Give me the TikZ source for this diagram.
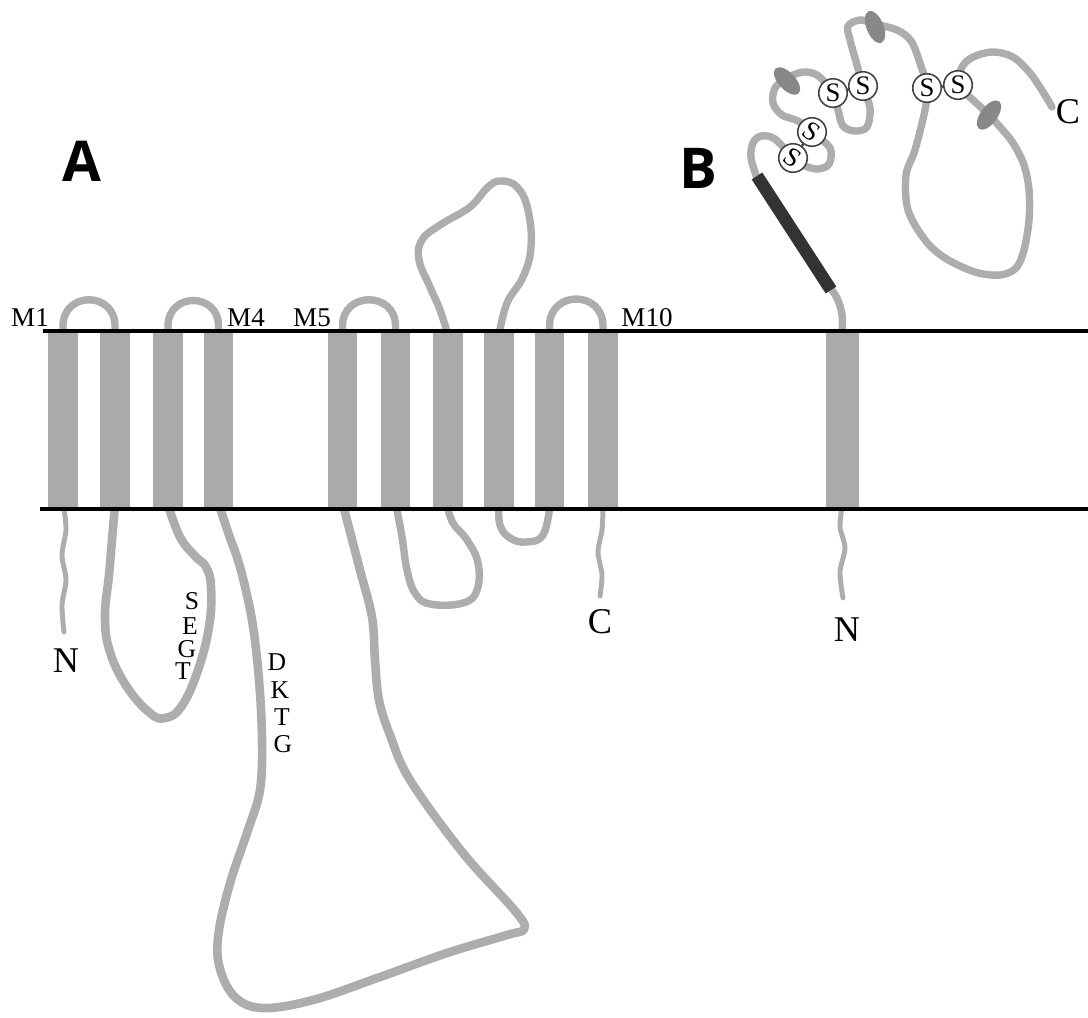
\documentclass[tikz,border=0pt]{standalone}
\usepackage{fontspec}
\setmainfont{Liberation Serif}
\newfontfamily\panelfont{Open Sans}
\definecolor{helixgray}{HTML}{AAAAAA}
\definecolor{chaingray}{HTML}{ADADAD}
\definecolor{ovalgray}{HTML}{888888}
\definecolor{stalk}{HTML}{333333}
\definecolor{ringgray}{HTML}{444444}

\begin{document}
\begin{tikzpicture}[x=0.01cm, y=-0.01cm,
  helix/.style={fill=helixgray},
  chain/.style={draw=chaingray, line width=2.1pt, line cap=round, line join=round},
  thickchain/.style={chain, line width=2.45pt},
  tail/.style={draw=chaingray, line width=1.4pt, line cap=round},
  membrane/.style={draw=black, line width=1.3pt},
  tmlabel/.style={font=\fontsize{7.7}{9}\selectfont, inner sep=0pt},
  endlabel/.style={font=\fontsize{10.3}{12}\selectfont, inner sep=0pt},
  motif/.style={font=\fontsize{7.3}{8}\selectfont, inner sep=0pt},
  panel/.style={font=\panelfont\bfseries\fontsize{16}{18}\selectfont, inner sep=0pt},
  sulfur/.style={circle, draw=ringgray, fill=white, line width=0.45pt,
    minimum size=0.285cm, inner sep=0pt, font=\fontsize{7.6}{8}\selectfont},
  glyco/.style={fill=ovalgray},
  bond/.style={draw=ringgray, line width=0.7pt},
]
\fill[white] (0,0) rectangle (1088,1017);
\useasboundingbox (0,0) rectangle (1088,1017);

% ---------- panel A: extracellular loops ----------
\draw[chain] (63,335) -- (63,326) .. controls (63,291) and (115,291) .. (115,326) -- (115,335);
\draw[chain] (168,335) -- (168,326) .. controls (168,292) and (218.5,292) .. (218.5,326) -- (218.5,335);
\draw[chain] (342.5,335) -- (342.5,326) .. controls (342.5,291) and (395.5,291) .. (395.5,326) -- (395.5,335);
\draw[chain] (549.5,335) -- (549.5,326) .. controls (549.5,290) and (603,290) .. (603,326) -- (603,335);
\draw[chain] plot[smooth, tension=0.7] coordinates {(448,335) (440,310) (430,287) (419,260)
  (422,240) (440,225) (470,207) (487,188) (500,181) (517,187) (528,210) (531,247)
  (523,277) (507,303) (499,335)};

% ---------- panel A: cytoplasmic loops ----------
\draw[thickchain] plot[smooth, tension=0.7] coordinates {(115,505) (112,540) (109,575)
  (105,617) (110,652) (127,687) (150,713) (165,718) (181,707) (197,673) (209,627)
  (211,587) (206,567) (195,556) (180,537) (168,505)};
\draw[thickchain] plot[smooth, tension=0.6] coordinates {(219,505) (229,535) (240,567)
  (252,620) (259,680) (262,740) (260,790) (248,830) (231,880) (219,930) (219,965)
  (234,996) (262,1008) (313,1000) (380,977) (447,953) (507,935) (524,929) (516,912)
  (463,853) (410,780) (390,735) (379,700) (375,660) (372,617) (360,570) (343,505)};
\draw[chain] plot[smooth, tension=0.7] coordinates {(396,505) (402,537) (407,570)
  (415,593) (430,604) (463,603) (477,590) (478,563) (467,540) (453,523) (447,505)};
\draw[chain] plot[smooth, tension=0.7] coordinates {(499,505) (500,525) (510,538)
  (526,542) (543,535) (550,505)};

% termini of panel A
\draw[tail] plot[smooth] coordinates {(64,509) (66,530) (62,555) (66,580) (62,605) (64,632)};
\draw[tail] plot[smooth] coordinates {(603,509) (602,530) (598,552) (602,575) (600,596)};

% ---------- panel B: stalk and extracellular domain ----------
\draw[tail] plot[smooth] coordinates {(842,507) (840,527) (845,548) (840,572) (843,598)};
\draw[chain] plot[smooth, tension=0.6] coordinates {(842,336) (842,315) (837,298) (830,288)};
\draw[chain] plot[smooth, tension=0.55] coordinates {(757,178) (751,158) (753,143)
  (761,136) (775,139) (793,158) (805,166) (818,169) (829,164) (830,148) (812,132)
  (798,121) (782,115) (773,103) (775,88) (787,78) (803,72) (817,75) (827,85) (833,93)
  (838,110) (843,126) (855,131) (867,127) (870,108) (863,88) (857,65) (850,40)
  (848,26) (860,20) (875,24) (897,30) (911,41) (920,63) (927,88) (925,110) (915,150)
  (906,175) (908,210) (925,240) (945,258) (975,272) (1000,275) (1016,268) (1024,250)
  (1029,220) (1029,190) (1024,165) (1013,143) (1000,127) (988,114) (972,99) (958,85)
  (962,67) (973,57) (993,52) (1013,57) (1030,73) (1043,92) (1052,107)};
\draw[stalk, line width=3.6pt] (831,290) -- (757,176);

% glycosylation sites
\fill[glyco, rotate around={-47:(787,81)}] (787,81) ellipse [x radius=17, y radius=8.5];
\fill[glyco, rotate around={-68:(875,27)}] (875,27) ellipse [x radius=17, y radius=8.5];
\fill[glyco, rotate around={54:(989,115)}] (989,115) ellipse [x radius=17, y radius=8.5];

% disulfide bridges
\draw[bond] (793,158) -- (812,132);
\draw[bond] (833,93) -- (863,86);
\draw[bond] (927,88) -- (958,85);
\node[sulfur, rotate=-35] (s1) at (793,158) {S};
\node[sulfur, rotate=-35] (s2) at (812,132) {S};
\node[sulfur] (s3) at (833,93) {S};
\node[sulfur] (s4) at (863,86) {S};
\node[sulfur] (s5) at (927,88) {S};
\node[sulfur] (s6) at (958,85) {S};

% ---------- transmembrane helices ----------
\foreach \xa/\xb in {48/78, 100/130, 153/183, 204/233, 328/357, 381/410, 433/463,
  484/514, 535/564, 588/618}
  \fill[helix] (\xa,331) rectangle (\xb,509);
\fill[helix] (826,333) rectangle (859,507);

% ---------- membrane ----------
\coordinate (topL) at (43,331);
\coordinate (topR) at (1088,331);
\coordinate (botL) at (40,509);
\coordinate (botR) at (1088,509);
\draw[membrane] (topL) -- (topR);
\draw[membrane] (botL) -- (botR);

% ---------- labels ----------
\node[panel] (pa) at (82,161) {A};
\node[panel] (pb) at (698,168) {B};
\node[tmlabel] (m1) at (30,318) {M1};
\node[tmlabel] (m4) at (246,318) {M4};
\node[tmlabel] (m5) at (312,318) {M5};
\node[tmlabel] (m10) at (647,318) {M10};
\node[endlabel] (nA) at (66,661) {N};
\node[endlabel] (cA) at (600,622) {C};
\node[endlabel] (nB) at (847,630) {N};
\node[endlabel] (cB) at (1068,112) {C};
\node[motif] (s-a) at (192,601) {S};
\node[motif] (e-a) at (190,626) {E};
\node[motif] (g-a) at (187,649) {G};
\node[motif] (t-a) at (183,671) {T};
\node[motif] (d-b) at (277,662) {D};
\node[motif] (k-b) at (280,690) {K};
\node[motif] (t-b) at (282,717) {T};
\node[motif] (g-b) at (283,744) {G};
\end{tikzpicture}
\end{document}
